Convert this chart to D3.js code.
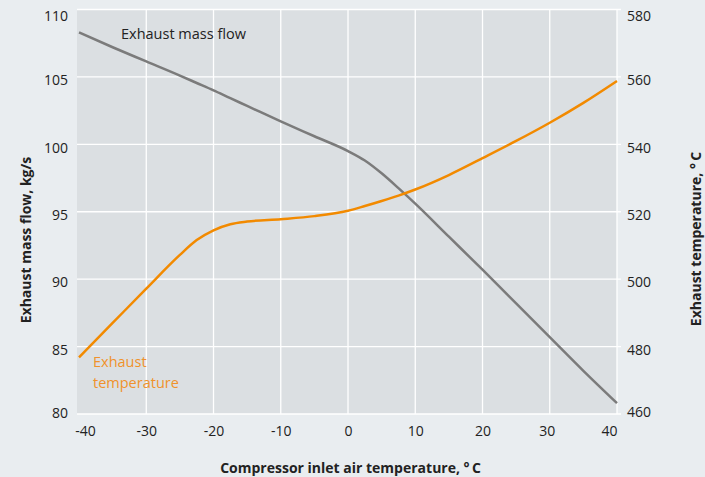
<!DOCTYPE html>
<html>
<head>
<meta charset="utf-8">
<script src="https://cdn.jsdelivr.net/npm/d3@7"></script>
<style>
  body { margin: 0; background: #e9edf0; }
  svg text { font-family: "Open Sans", "Noto Sans", sans-serif; fill: #222; }
  .tick line, .domain { display: none; }
  .tick text { font-size: 14px; }
  .axis-title { font-size: 14px; font-weight: bold; }
</style>
</head>
<body>
<svg id="chart"></svg>
<script>
// Compressor inlet air temperature, °C
const inletTemp = [-40, -35, -30, -25, -22.5, -20, -17.5, -15, -10, -5, 0, 2.5, 5, 7.5, 10, 15, 20, 25, 30, 35, 40];
// Exhaust mass flow, kg/s (left axis)
const massFlow = [108.3, 107.2, 106.15, 105.1, 104.55, 104.0, 103.42, 102.85, 101.7, 100.6, 99.5, 98.8, 97.85, 96.75, 95.6, 93.15, 90.7, 88.2, 85.7, 83.2, 80.8];
// Exhaust temperature, °C (right axis)
const exhaustTemp = [476.8, 487.0, 497.2, 507.2, 511.6, 514.5, 516.3, 517.1, 517.8, 518.7, 520.3, 521.7, 523.2, 524.8, 526.6, 530.9, 535.9, 541.0, 546.4, 552.3, 558.8];

const xTicks = [-40, -30, -20, -10, 0, 10, 20, 30, 40];
const leftTicks = [80, 85, 90, 95, 100, 105, 110];
const rightTicks = [460, 480, 500, 520, 540, 560, 580];

const width = 705, height = 477;
const plot = {left: 77, right: 617, top: 9.5, bottom: 414};

const svg = d3.select('#chart')
    .attr('width', width)
    .attr('height', height);

const xScale = d3.scaleLinear().domain([-40.3, 40]).range([plot.left, plot.right]);
const yLeft = d3.scaleLinear().domain([80, 110]).range([plot.bottom, plot.top]);
const yRight = d3.scaleLinear().domain([460, 580]).range([plot.bottom, plot.top]);

// plot background
svg.append('rect')
    .attr('x', plot.left)
    .attr('y', plot.top)
    .attr('width', plot.right - plot.left)
    .attr('height', plot.bottom - plot.top)
    .attr('fill', '#dbdfe2');

// gridlines
svg.append('g').selectAll('line')
    .data(xTicks.slice(1))
    .join('line')
    .attr('x1', d => xScale(d)).attr('x2', d => xScale(d))
    .attr('y1', plot.top).attr('y2', plot.bottom)
    .attr('stroke', '#fff').attr('stroke-width', 1.3);

svg.append('g').selectAll('line')
    .data(leftTicks)
    .join('line')
    .attr('x1', plot.left).attr('x2', plot.right + 4)
    .attr('y1', d => yLeft(d)).attr('y2', d => yLeft(d))
    .attr('stroke', '#fff').attr('stroke-width', 1.3);

// axes
const xAxisG = svg.append('g')
    .attr('transform', `translate(0,${plot.bottom})`)
    .call(d3.axisBottom(xScale).tickValues(xTicks).tickFormat(d => String(d)).tickSize(0).tickPadding(12));
xAxisG.selectAll('.tick text')
    .attr('dx', d => d === -40 ? 6 : d === 40 ? -8 : d === 30 ? -3 : 0);

const yLeftG = svg.append('g')
    .attr('transform', `translate(${plot.left},0)`)
    .call(d3.axisLeft(yLeft).tickValues(leftTicks).tickFormat(d => String(d)).tickSize(0).tickPadding(9));
yLeftG.selectAll('.tick text')
    .attr('dy', d => d === 110 ? '0.75em' : d === 80 ? '0.25em' : '0.55em');

const yRightG = svg.append('g')
    .attr('transform', `translate(${plot.right},0)`)
    .call(d3.axisRight(yRight).tickValues(rightTicks).tickFormat(d => String(d)).tickSize(0).tickPadding(10));
yRightG.selectAll('.tick text')
    .attr('dy', d => d === 580 ? '0.75em' : d === 460 ? '0.2em' : '0.55em');

// lines
const massLine = d3.line()
    .x((d, i) => xScale(inletTemp[i]))
    .y(d => yLeft(d))
    .curve(d3.curveMonotoneX);

const tempLine = d3.line()
    .x((d, i) => xScale(inletTemp[i]))
    .y(d => yRight(d))
    .curve(d3.curveMonotoneX);

svg.append('path')
    .datum(massFlow)
    .attr('d', massLine)
    .attr('fill', 'none')
    .attr('stroke', '#7b7b7b')
    .attr('stroke-width', 2.5);

svg.append('path')
    .datum(exhaustTemp)
    .attr('d', tempLine)
    .attr('fill', 'none')
    .attr('stroke', '#f28a00')
    .attr('stroke-width', 2.5);

// series labels
svg.append('text')
    .attr('x', 121)
    .attr('y', 38.5)
    .style('font-size', '14.5px')
    .text('Exhaust mass flow');

const tLabel = svg.append('text')
    .attr('x', 93)
    .attr('y', 367)
    .style('font-size', '14.5px')
    .style('fill', '#f0922b');
tLabel.append('tspan').attr('x', 93).text('Exhaust');
tLabel.append('tspan').attr('x', 93).attr('dy', 20.5).text('temperature');

// axis titles
svg.append('text')
    .attr('class', 'axis-title')
    .attr('text-anchor', 'middle')
    .attr('x', 350.5)
    .attr('y', 473)
    .text('Compressor inlet air temperature, °\u2009C');

svg.append('text')
    .attr('class', 'axis-title')
    .attr('text-anchor', 'middle')
    .attr('transform', 'translate(31,240) rotate(-90)')
    .text('Exhaust mass flow, kg/s');

svg.append('text')
    .attr('class', 'axis-title')
    .attr('text-anchor', 'middle')
    .attr('transform', 'translate(701,239) rotate(-90)')
    .text('Exhaust temperature, °\u2009C');
</script>
</body>
</html>
